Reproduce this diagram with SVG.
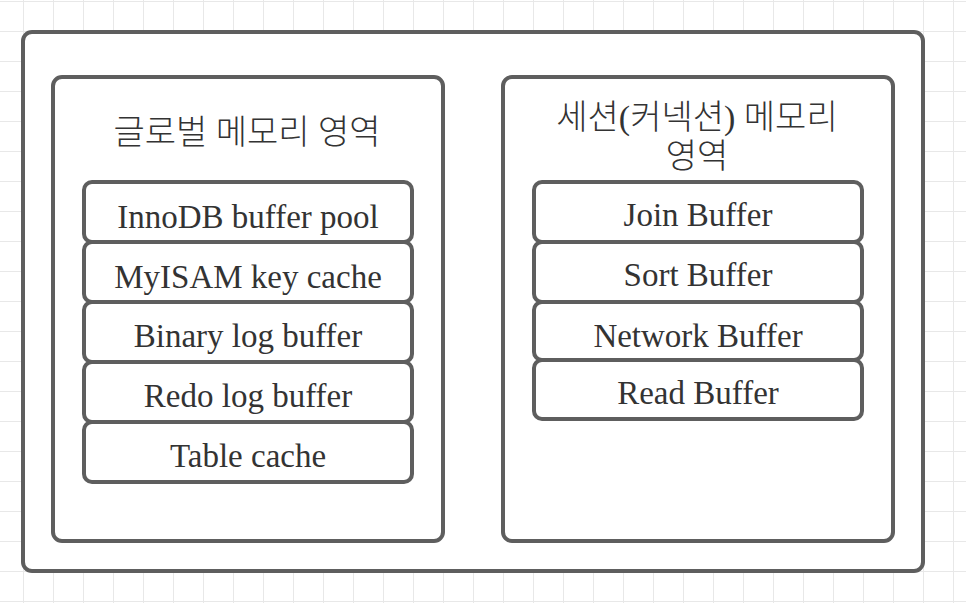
<svg xmlns="http://www.w3.org/2000/svg" width="966" height="603" viewBox="0 0 966 603">
<style>
.box{fill:#ffffff;stroke:#5e5e5e;stroke-width:4}
.t{font-family:"Liberation Serif","Noto Sans CJK KR",serif;font-size:33px;fill:#333333;text-anchor:middle}
.h{font-family:"Liberation Serif","Noto Sans CJK KR",serif;font-size:34px;fill:#333333;text-anchor:middle;font-weight:300}
.grid{fill:none;stroke:#e8e8e8;stroke-width:1}
</style>
<rect width="966" height="603" fill="#ffffff"/>
<path class="grid" d="M23.5 0V603M53.5 0V603M83.5 0V603M113.5 0V603M143.5 0V603M173.5 0V603M203.5 0V603M233.5 0V603M263.5 0V603M293.5 0V603M323.5 0V603M353.5 0V603M383.5 0V603M413.5 0V603M443.5 0V603M473.5 0V603M503.5 0V603M533.5 0V603M563.5 0V603M593.5 0V603M623.5 0V603M653.5 0V603M683.5 0V603M713.5 0V603M743.5 0V603M773.5 0V603M803.5 0V603M833.5 0V603M863.5 0V603M893.5 0V603M923.5 0V603M953.5 0V603M0 1.5H966M0 31.5H966M0 61.5H966M0 91.5H966M0 121.5H966M0 151.5H966M0 181.5H966M0 211.5H966M0 241.5H966M0 271.5H966M0 301.5H966M0 331.5H966M0 361.5H966M0 391.5H966M0 421.5H966M0 451.5H966M0 481.5H966M0 511.5H966M0 541.5H966M0 571.5H966M0 601.5H966"/>
<g id="outer"><rect class="box" x="23" y="32" width="900" height="539" rx="9"/></g>
<g id="global">
<rect class="box" x="53" y="77" width="390" height="464" rx="9"/>
<text class="h" x="247" y="144">글로벌 메모리 영역</text>
</g>
<g id="session">
<rect class="box" x="503" y="77" width="390" height="464" rx="9"/>
<text class="h" x="697" y="129">세션(커넥션) 메모리</text>
<text class="h" x="697" y="168">영역</text>
</g>
<g id="innodb"><rect class="box" x="84" y="182" width="328" height="60" rx="8"/><text class="t" x="248" y="228">InnoDB buffer pool</text></g>
<g id="myisam"><rect class="box" x="84" y="242" width="328" height="60" rx="8"/><text class="t" x="248" y="288">MyISAM key cache</text></g>
<g id="binlog"><rect class="box" x="84" y="302" width="328" height="60" rx="8"/><text class="t" x="248" y="347">Binary log buffer</text></g>
<g id="redo"><rect class="box" x="84" y="362" width="328" height="60" rx="8"/><text class="t" x="248" y="407">Redo log buffer</text></g>
<g id="table"><rect class="box" x="84" y="422" width="328" height="60" rx="8"/><text class="t" x="248" y="467">Table cache</text></g>
<g id="join"><rect class="box" x="534" y="182" width="328" height="60" rx="8"/><text class="t" x="698" y="226">Join Buffer</text></g>
<g id="sort"><rect class="box" x="534" y="242" width="328" height="60" rx="8"/><text class="t" x="698" y="286">Sort Buffer</text></g>
<g id="network"><rect class="box" x="534" y="302" width="328" height="58" rx="8"/><text class="t" x="698" y="347">Network Buffer</text></g>
<g id="read"><rect class="box" x="534" y="360" width="328" height="59" rx="8"/><text class="t" x="698" y="404">Read Buffer</text></g>
<g id="connectors"></g>
</svg>
